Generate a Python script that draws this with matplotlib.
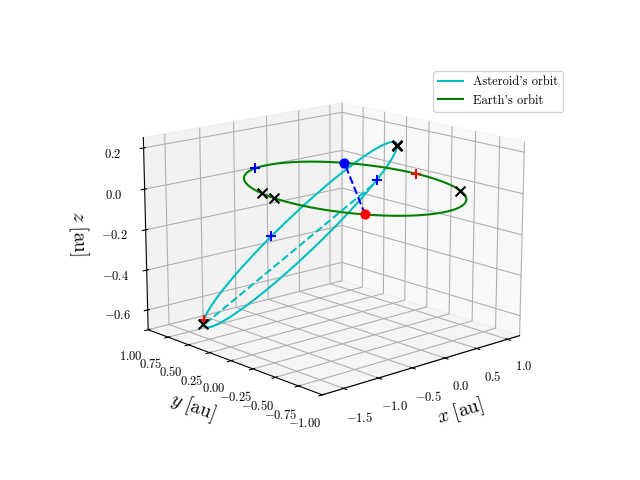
import numpy as np
import matplotlib
matplotlib.use("Agg")
import matplotlib.pyplot as plt

plt.rcParams['mathtext.fontset'] = 'cm'
plt.rcParams['font.family'] = 'serif'
plt.rcParams['font.serif'] = ['cmr10']
plt.rcParams['axes.formatter.use_mathtext'] = True

ast_q = 0.45
ast_Q = 1.6
apse_dir = [-1.0, 1.0, -0.75]
earth_r = 1.0
earth_marks_x = [-38, 162, 172]
earth_plus_red = [0]
earth_plus_blue = [102]
earth_red_dot = [-138]
ast_marks_deg = [0, 4, 178]
ast_plus_red = [174]
ast_plus_blue = [-62, 135]
ast_end = [-68]
blue_dot = [0.35, 0.35, 0.06]

ELEV, AZIM = 15, -132
d = np.array([np.cos(np.radians(ELEV)) * np.cos(np.radians(AZIM)),
              np.cos(np.radians(ELEV)) * np.sin(np.radians(AZIM)),
              np.sin(np.radians(ELEV))])
u = np.array(apse_dir, float); u /= np.linalg.norm(u)
dp = d - d.dot(u) * u; dp /= np.linalg.norm(dp)
w0 = np.cross(u, dp)
al = np.radians(6)
v = np.cos(al) * dp + np.sin(al) * w0
a = (ast_q + ast_Q) / 2; e = (ast_Q - ast_q) / (ast_Q + ast_q)

def ast(nu):
    nu = np.radians(np.atleast_1d(nu))
    r = a * (1 - e**2) / (1 + e * np.cos(nu))
    return np.outer(r * np.cos(nu), -u) + np.outer(r * np.sin(nu), v)

def earth(t):
    t = np.radians(np.atleast_1d(t))
    return np.c_[earth_r * np.cos(t), earth_r * np.sin(t), np.zeros_like(t)]

fig = plt.figure(figsize=(6.4, 4.8), dpi=100)
ax = fig.add_subplot(projection='3d')
P = ast(np.linspace(0, 360, 400))
ax.plot(*P.T, color='c', label="Asteroid's orbit")
E = earth(np.linspace(0, 360, 400))
ax.plot(*E.T, color='g', label="Earth's orbit")
A = ast([180])[0]
T = ast(ast_end)[0]
R = earth(earth_red_dot)[0]
ax.plot([T[0], A[0]], [T[1], A[1]], [T[2], A[2]], 'c--')
ax.plot([R[0], blue_dot[0]], [R[1], blue_dot[1]], [R[2], blue_dot[2]], 'b--')
ax.scatter(*R, color='r', s=40, depthshade=False)
ax.scatter(*blue_dot, color='b', s=40, depthshade=False)
for pts, m, c in [(earth(earth_marks_x), 'x', 'k'), (earth(earth_plus_red), '+', 'r'),
                  (earth(earth_plus_blue), '+', 'b'), (ast(ast_marks_deg), 'x', 'k'),
                  (ast(ast_plus_red), '+', 'r'), (ast(ast_plus_blue), '+', 'b')]:
    ax.scatter(*pts.T, marker=m, color=c, s=50, depthshade=False)
ax.set_xlim(-1.8, 1.2); ax.set_ylim(-1, 1); ax.set_zlim(-0.7, 0.25)
xt = [-1.5, -1.0, -0.5, 0.0, 0.5, 1.0]
yt = list(np.arange(-1, 1.01, 0.25))
zt = [-0.6, -0.4, -0.2, 0.0, 0.2]
ax.set_xticks(xt); ax.set_xticklabels([f'${t:.1f}$' for t in xt])
ax.set_yticks(yt); ax.set_yticklabels([f'${t:.2f}$' for t in yt])
ax.set_zticks(zt); ax.set_zticklabels([f'${t:.1f}$' for t in zt])
ax.set_xlabel(r'$x\ [\mathrm{au}]$', fontsize=14)
ax.set_ylabel(r'$y\ [\mathrm{au}]$', fontsize=14)
ax.set_zlabel(r'$z\ [\mathrm{au}]$', fontsize=14)
ax.tick_params(labelsize=9)
ax.view_init(elev=ELEV, azim=AZIM)
ax.set_box_aspect(None, zoom=1.12)
ax.legend(loc='upper right', bbox_to_anchor=(0.89, 0.865), bbox_transform=fig.transFigure,
          fontsize=9)
fig.savefig('out.png')
